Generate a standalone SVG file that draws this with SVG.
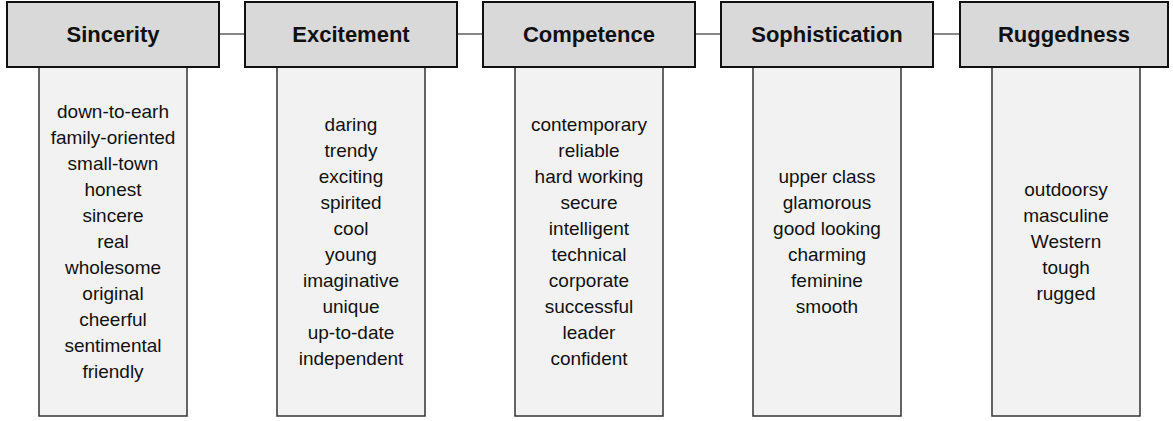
<svg xmlns="http://www.w3.org/2000/svg" width="1173" height="421" viewBox="0 0 1173 421">
<style>
.hdr{fill:#d9d9d9;stroke:#111;stroke-width:2}
.lst{fill:#f2f2f2;stroke:#333;stroke-width:1.5}
.ht{font-family:"Liberation Sans",Arial,sans-serif;font-weight:bold;font-size:22px;fill:#111;text-anchor:middle}
.it{font-family:"Liberation Sans",Arial,sans-serif;font-size:19px;fill:#111;text-anchor:middle}
.con{stroke:#111;stroke-width:1;fill:none}
</style>
<rect width="1173" height="421" fill="#fff"/>
<g id="connectors">
<line class="con" x1="219" y1="34" x2="245" y2="34"/>
<line class="con" x1="457" y1="34" x2="483" y2="34"/>
<line class="con" x1="695" y1="34" x2="721" y2="34"/>
<line class="con" x1="933" y1="34" x2="960" y2="34"/>
</g>
<g id="sincerity">
<rect class="lst" x="39" y="67" width="148" height="349"/>
<rect class="hdr" x="7" y="2" width="212" height="65"/>
<text class="ht" x="113" y="42">Sincerity</text>
<text class="it" x="113" y="118">down-to-earh</text>
<text class="it" x="113" y="144">family-oriented</text>
<text class="it" x="113" y="170">small-town</text>
<text class="it" x="113" y="196">honest</text>
<text class="it" x="113" y="222">sincere</text>
<text class="it" x="113" y="248">real</text>
<text class="it" x="113" y="274">wholesome</text>
<text class="it" x="113" y="300">original</text>
<text class="it" x="113" y="326">cheerful</text>
<text class="it" x="113" y="352">sentimental</text>
<text class="it" x="113" y="378">friendly</text>
</g>
<g id="excitement">
<rect class="lst" x="277" y="67" width="148" height="349"/>
<rect class="hdr" x="245" y="2" width="212" height="65"/>
<text class="ht" x="351" y="42">Excitement</text>
<text class="it" x="351" y="131">daring</text>
<text class="it" x="351" y="157">trendy</text>
<text class="it" x="351" y="183">exciting</text>
<text class="it" x="351" y="209">spirited</text>
<text class="it" x="351" y="235">cool</text>
<text class="it" x="351" y="261">young</text>
<text class="it" x="351" y="287">imaginative</text>
<text class="it" x="351" y="313">unique</text>
<text class="it" x="351" y="339">up-to-date</text>
<text class="it" x="351" y="365">independent</text>
</g>
<g id="competence">
<rect class="lst" x="515" y="67" width="148" height="349"/>
<rect class="hdr" x="483" y="2" width="212" height="65"/>
<text class="ht" x="589" y="42">Competence</text>
<text class="it" x="589" y="131">contemporary</text>
<text class="it" x="589" y="157">reliable</text>
<text class="it" x="589" y="183">hard working</text>
<text class="it" x="589" y="209">secure</text>
<text class="it" x="589" y="235">intelligent</text>
<text class="it" x="589" y="261">technical</text>
<text class="it" x="589" y="287">corporate</text>
<text class="it" x="589" y="313">successful</text>
<text class="it" x="589" y="339">leader</text>
<text class="it" x="589" y="365">confident</text>
</g>
<g id="sophistication">
<rect class="lst" x="753" y="67" width="148" height="349"/>
<rect class="hdr" x="721" y="2" width="212" height="65"/>
<text class="ht" x="827" y="42">Sophistication</text>
<text class="it" x="827" y="183">upper class</text>
<text class="it" x="827" y="209">glamorous</text>
<text class="it" x="827" y="235">good looking</text>
<text class="it" x="827" y="261">charming</text>
<text class="it" x="827" y="287">feminine</text>
<text class="it" x="827" y="313">smooth</text>
</g>
<g id="ruggedness">
<rect class="lst" x="992" y="67" width="148" height="349"/>
<rect class="hdr" x="960" y="2" width="208" height="65"/>
<text class="ht" x="1064" y="42">Ruggedness</text>
<text class="it" x="1066" y="196">outdoorsy</text>
<text class="it" x="1066" y="222">masculine</text>
<text class="it" x="1066" y="248">Western</text>
<text class="it" x="1066" y="274">tough</text>
<text class="it" x="1066" y="300">rugged</text>
</g>
</svg>
